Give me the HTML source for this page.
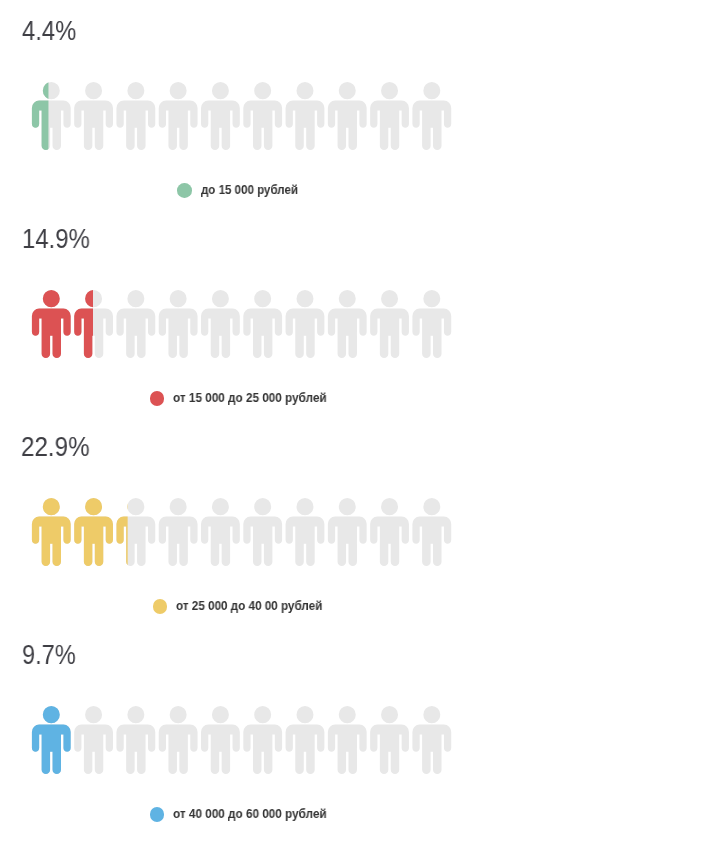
<!DOCTYPE html>
<html><head><meta charset="utf-8"><title>chart</title>
<style>
html,body{margin:0;padding:0;background:#fff;}
body{width:720px;height:846px;position:relative;overflow:hidden;font-family:"Liberation Sans",sans-serif;}
.t{position:absolute;font-size:27.3px;line-height:26px;color:#3e3e44;will-change:transform;white-space:nowrap;transform-origin:0 0;}
.l{position:absolute;will-change:transform;font-size:12.4px;line-height:14px;font-weight:bold;color:#333;white-space:nowrap;transform-origin:0 0;}
.d{position:absolute;width:14.6px;height:14.6px;border-radius:50%;}
svg{position:absolute;left:0;top:0;}
</style></head><body>
<svg width="720" height="846" viewBox="0 0 720 846">
<defs><path id="m" d="M1024 832v-416q0 -40 -28 -68t-68 -28t-68 28t-28 68v352h-64v-912q0 -46 -33 -79t-79 -33t-79 33t-33 79v464h-64v-464q0 -46 -33 -79t-79 -33t-79 33t-33 79v912h-64v-352q0 -40 -28 -68t-68 -28t-68 28t-28 68v416q0 80 56 136t136 56h640q80 0 136 -56t56 -136zM736 1280q0 -93 -65.5 -158.5t-158.5 -65.5t-158.5 65.5t-65.5 158.5t65.5 158.5t158.5 65.5t158.5 -65.5t65.5 -158.5z"/>
<clipPath id="c0"><rect x="0" y="0" width="48.45" height="208"/></clipPath>
<clipPath id="c1"><rect x="0" y="208" width="93.00" height="208"/></clipPath>
<clipPath id="c2"><rect x="0" y="416" width="127.65" height="208"/></clipPath>
<clipPath id="c3"><rect x="0" y="624" width="71.50" height="208"/></clipPath>
</defs>
<g fill="#e8e8e8"><use href="#m" transform="translate(31.90,140.11) scale(0.03789,-0.03864)"/><use href="#m" transform="translate(74.18,140.11) scale(0.03789,-0.03864)"/><use href="#m" transform="translate(116.46,140.11) scale(0.03789,-0.03864)"/><use href="#m" transform="translate(158.74,140.11) scale(0.03789,-0.03864)"/><use href="#m" transform="translate(201.02,140.11) scale(0.03789,-0.03864)"/><use href="#m" transform="translate(243.30,140.11) scale(0.03789,-0.03864)"/><use href="#m" transform="translate(285.58,140.11) scale(0.03789,-0.03864)"/><use href="#m" transform="translate(327.86,140.11) scale(0.03789,-0.03864)"/><use href="#m" transform="translate(370.14,140.11) scale(0.03789,-0.03864)"/><use href="#m" transform="translate(412.42,140.11) scale(0.03789,-0.03864)"/></g>
<g fill="#8dc6a7" clip-path="url(#c0)"><use href="#m" transform="translate(31.90,140.11) scale(0.03789,-0.03864)"/></g>
<g fill="#e8e8e8"><use href="#m" transform="translate(31.90,348.11) scale(0.03789,-0.03864)"/><use href="#m" transform="translate(74.18,348.11) scale(0.03789,-0.03864)"/><use href="#m" transform="translate(116.46,348.11) scale(0.03789,-0.03864)"/><use href="#m" transform="translate(158.74,348.11) scale(0.03789,-0.03864)"/><use href="#m" transform="translate(201.02,348.11) scale(0.03789,-0.03864)"/><use href="#m" transform="translate(243.30,348.11) scale(0.03789,-0.03864)"/><use href="#m" transform="translate(285.58,348.11) scale(0.03789,-0.03864)"/><use href="#m" transform="translate(327.86,348.11) scale(0.03789,-0.03864)"/><use href="#m" transform="translate(370.14,348.11) scale(0.03789,-0.03864)"/><use href="#m" transform="translate(412.42,348.11) scale(0.03789,-0.03864)"/></g>
<g fill="#dc5253" clip-path="url(#c1)"><use href="#m" transform="translate(31.90,348.11) scale(0.03789,-0.03864)"/><use href="#m" transform="translate(74.18,348.11) scale(0.03789,-0.03864)"/></g>
<g fill="#e8e8e8"><use href="#m" transform="translate(31.90,556.11) scale(0.03789,-0.03864)"/><use href="#m" transform="translate(74.18,556.11) scale(0.03789,-0.03864)"/><use href="#m" transform="translate(116.46,556.11) scale(0.03789,-0.03864)"/><use href="#m" transform="translate(158.74,556.11) scale(0.03789,-0.03864)"/><use href="#m" transform="translate(201.02,556.11) scale(0.03789,-0.03864)"/><use href="#m" transform="translate(243.30,556.11) scale(0.03789,-0.03864)"/><use href="#m" transform="translate(285.58,556.11) scale(0.03789,-0.03864)"/><use href="#m" transform="translate(327.86,556.11) scale(0.03789,-0.03864)"/><use href="#m" transform="translate(370.14,556.11) scale(0.03789,-0.03864)"/><use href="#m" transform="translate(412.42,556.11) scale(0.03789,-0.03864)"/></g>
<g fill="#eecb68" clip-path="url(#c2)"><use href="#m" transform="translate(31.90,556.11) scale(0.03789,-0.03864)"/><use href="#m" transform="translate(74.18,556.11) scale(0.03789,-0.03864)"/><use href="#m" transform="translate(116.46,556.11) scale(0.03789,-0.03864)"/></g>
<g fill="#e8e8e8"><use href="#m" transform="translate(31.90,764.11) scale(0.03789,-0.03864)"/><use href="#m" transform="translate(74.18,764.11) scale(0.03789,-0.03864)"/><use href="#m" transform="translate(116.46,764.11) scale(0.03789,-0.03864)"/><use href="#m" transform="translate(158.74,764.11) scale(0.03789,-0.03864)"/><use href="#m" transform="translate(201.02,764.11) scale(0.03789,-0.03864)"/><use href="#m" transform="translate(243.30,764.11) scale(0.03789,-0.03864)"/><use href="#m" transform="translate(285.58,764.11) scale(0.03789,-0.03864)"/><use href="#m" transform="translate(327.86,764.11) scale(0.03789,-0.03864)"/><use href="#m" transform="translate(370.14,764.11) scale(0.03789,-0.03864)"/><use href="#m" transform="translate(412.42,764.11) scale(0.03789,-0.03864)"/></g>
<g fill="#5fb3e3" clip-path="url(#c3)"><use href="#m" transform="translate(31.90,764.11) scale(0.03789,-0.03864)"/></g>
</svg>
<div class="t" style="left:21.85px;top:17.5px;transform:scaleX(0.8720)">4.4%</div>
<div class="d" style="left:177.2px;top:183.1px;background:#8dc6a7"></div>
<div class="l" style="left:200.87px;top:183.2px;transform:scaleX(0.9322)">до 15 000 рублей</div>
<div class="t" style="left:22.39px;top:225.5px;transform:scaleX(0.8750)">14.9%</div>
<div class="d" style="left:149.9px;top:391.1px;background:#dc5253"></div>
<div class="l" style="left:172.75px;top:391.2px;transform:scaleX(0.9473)">от 15 000 до 25 000 рублей</div>
<div class="t" style="left:21.20px;top:433.5px;transform:scaleX(0.8853)">22.9%</div>
<div class="d" style="left:152.6px;top:599.0px;background:#eecb68"></div>
<div class="l" style="left:176.09px;top:599.2px;transform:scaleX(0.9423)">от 25 000 до 40 00 рублей</div>
<div class="t" style="left:22.33px;top:641.5px;transform:scaleX(0.8631)">9.7%</div>
<div class="d" style="left:149.9px;top:807.0px;background:#5fb3e3"></div>
<div class="l" style="left:172.75px;top:807.2px;transform:scaleX(0.9473)">от 40 000 до 60 000 рублей</div>
</body></html>
